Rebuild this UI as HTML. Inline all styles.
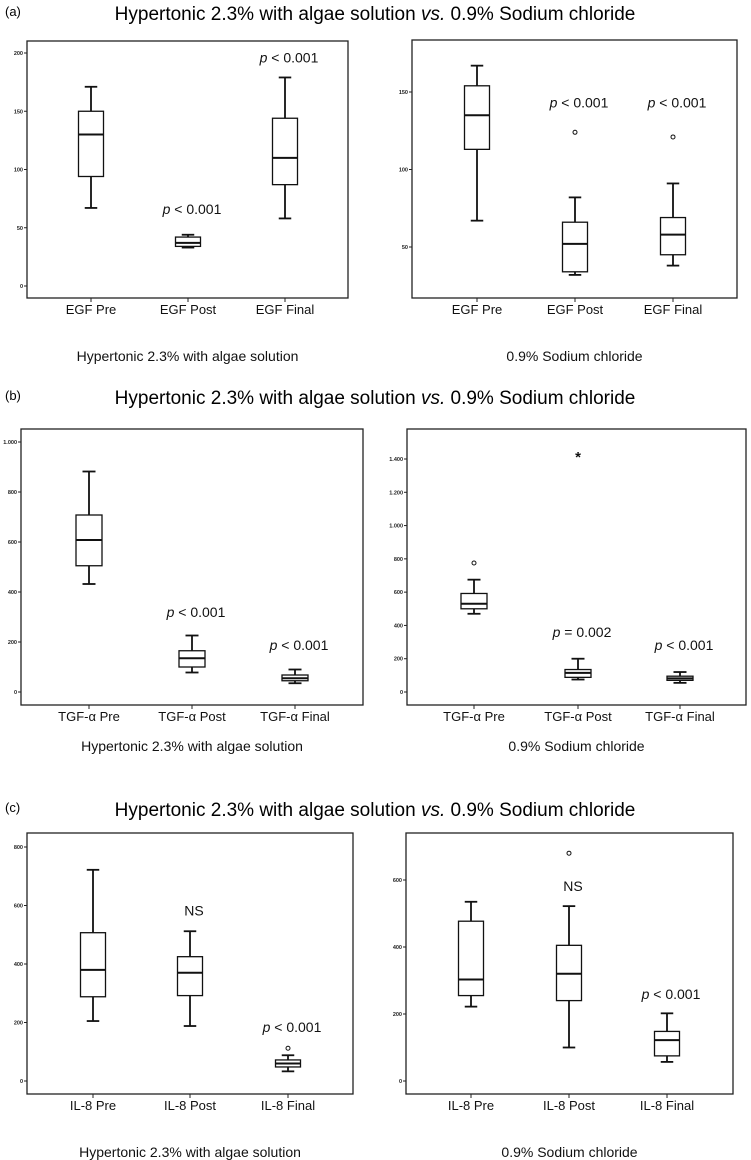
<!DOCTYPE html>
<html><head><meta charset="utf-8"><style>
body{margin:0;background:#fff;width:751px;height:1160px;overflow:hidden;font-family:"Liberation Sans",sans-serif}
svg{display:block}
</style></head><body>
<svg id="fig" width="751" height="1160" viewBox="0 0 751 1160" xmlns="http://www.w3.org/2000/svg" font-family="Liberation Sans, sans-serif"></svg>
<script>
// ---- data ----
const catsEGF = ["EGF Pre","EGF Post","EGF Final"];
const catsTGF = ["TGF-\u03b1 Pre","TGF-\u03b1 Post","TGF-\u03b1 Final"];
const catsIL8 = ["IL-8 Pre","IL-8 Post","IL-8 Final"];
// [low whisker, q1, median, q3, high whisker]
const egfAlgae = [[67,94,130,150,171],[33,34,37,42,44],[58,87,110,144,179]];
const egfNaCl = [[67,113,135,154,167],[32,34,52,66,82],[38,45,58,69,91]];
const egfNaClOutliers = [[],[124],[121]];
const tgfAlgae = [[432,505,608,708,882],[78,100,135,165,226],[35,45,55,68,90]];
const tgfNaCl = [[470,500,530,592,675],[75,88,115,135,200],[55,70,82,95,120]];
const tgfNaClOutliers = [[775],[],[]];
const tgfNaClExtremes = [[],[1425],[]];
const il8Algae = [[205,288,380,507,722],[188,292,370,425,512],[33,48,60,72,88]];
const il8AlgaeOutliers = [[],[],[112]];
const il8NaCl = [[222,255,303,477,535],[100,240,320,405,522],[57,75,122,148,202]];
const il8NaClOutliers = [[],[680],[]];
const ticksA1 = [0,50,100,150,200];
const ticksA2 = [50,100,150];
const ticksB1 = [0,200,400,600,800,1000];
const ticksB2 = [0,200,400,600,800,1000,1200,1400];
const ticksC1 = [0,200,400,600,800];
const ticksC2 = [0,200,400,600];
const annA1 = ["","p < 0.001","p < 0.001"], annA1V=[0,62,192];
const annA2 = ["","p < 0.001","p < 0.001"], annA2V=[0,140,140];
const annB1 = ["","p < 0.001","p < 0.001"], annB1V=[0,300,168];
const annB2 = ["","p = 0.002","p < 0.001"], annB2V=[0,330,253];
const annC1 = ["","NS","p < 0.001"], annC1V=[0,565,168];
const annC2 = ["","NS","p < 0.001"], annC2V=[0,567,245];

const NS="http://www.w3.org/2000/svg";
const svg=document.getElementById('fig');
function mk(tag,attrs,parent,text){const e=document.createElementNS(NS,tag);for(const k in attrs)e.setAttribute(k,attrs[k]);if(text!==undefined)e.textContent=text;(parent||svg).appendChild(e);return e;}

function header(letter,y){
  const l=mk('text',{x:5,y:y,'font-size':13,fill:'#000'},svg,'('+letter+')');
  
  
  const t=mk('text',{x:375,y:y+4,'font-size':19,'text-anchor':'middle',fill:'#000'},svg);
  
  
  mk('tspan',{},t,'Hypertonic 2.3% with algae solution ');
  mk('tspan',{'font-style':'italic'},t,'vs.');
  mk('tspan',{},t,' 0.9% Sodium chloride');
}

function panel(name,fr,y0,v0,y1,v1,cx,bw,cats,boxes,ticks,ann,annV,outs,extr,sub,subY){
  const g=mk('g',{});
  
  
  const y=v=>y0+(v-v0)*(y1-y0)/(v1-v0);
  const fm=mk('rect',{x:fr[0],y:fr[1],width:fr[2]-fr[0],height:fr[3]-fr[1],fill:'none',stroke:'#222','stroke-width':1.3},g);
  
  
  ticks.forEach(t=>{
    const yy=y(t);
    mk('line',{x1:fr[0]-3,x2:fr[0],y1:yy,y2:yy,stroke:'#222','stroke-width':1},g);
    const lb=mk('text',{x:fr[0]-4,y:yy+2,'font-size':5.5,'font-weight':'bold','text-anchor':'end',fill:'#222'},g,t>=1000?(t/1000).toFixed(3):String(t));
    
    
  });
  cats.forEach((c,i)=>{
    const x=cx[i],b=boxes[i];
    mk('line',{x1:x,x2:x,y1:fr[3],y2:fr[3]+4,stroke:'#222','stroke-width':1},g);
    const cl=mk('text',{x:x,y:fr[3]+16,'font-size':13,'text-anchor':'middle',fill:'#111'},g,c);
    
    
    const bx=mk('g',{'stroke':'#111','fill':'none'},g);
    
    
    mk('line',{x1:x,x2:x,y1:y(b[0]),y2:y(b[1]),'stroke-width':1.8},bx);
    mk('line',{x1:x,x2:x,y1:y(b[3]),y2:y(b[4]),'stroke-width':1.8},bx);
    mk('line',{x1:x-bw/4,x2:x+bw/4,y1:y(b[0]),y2:y(b[0]),'stroke-width':1.8},bx);
    mk('line',{x1:x-bw/4,x2:x+bw/4,y1:y(b[4]),y2:y(b[4]),'stroke-width':1.8},bx);
    mk('rect',{x:x-bw/2,y:y(b[3]),width:bw,height:y(b[1])-y(b[3]),fill:'#fff','stroke-width':1.3},bx);
    mk('line',{x1:x-bw/2,x2:x+bw/2,y1:y(b[2]),y2:y(b[2]),'stroke-width':2},bx);
    (outs?outs[i]:[]).forEach(o=>{
      const c2=mk('circle',{cx:x,cy:y(o),r:2,fill:'none',stroke:'#111','stroke-width':1},g);
      
      
    });
    (extr?extr[i]:[]).forEach(o=>{
      const s=mk('text',{x:x,y:y(o)+7,'font-size':15,'font-weight':'bold','text-anchor':'middle',fill:'#111'},g,'*');
      
      
    });
    if(ann[i]){
      const a=mk('text',{x:x+4,y:y(annV[i]),'font-size':14,'text-anchor':'middle',fill:'#111'},g);
      
      
      if(ann[i].startsWith('p')){mk('tspan',{'font-style':'italic'},a,'p');mk('tspan',{},a,ann[i].slice(1));}
      else a.textContent=ann[i];
    }
  });
  const st=mk('text',{x:(fr[0]+fr[2])/2,y:subY,'font-size':14,'text-anchor':'middle',fill:'#111'},g,sub);
  
  
}

header('a',16);
panel('egf-algae-chart',[27,41,348,298],286,0,53,200,[91,188,285],25,catsEGF,egfAlgae,ticksA1,annA1,annA1V,null,null,'Hypertonic 2.3% with algae solution',361);
panel('egf-nacl-chart',[412,40,737,298],247,50,92,150,[477,575,673],25,catsEGF,egfNaCl,ticksA2,annA2,annA2V,egfNaClOutliers,null,'0.9% Sodium chloride',361);
header('b',400);
panel('tgf-algae-chart',[21,429,363,705],692,0,442,1000,[89,192,295],26,catsTGF,tgfAlgae,ticksB1,annB1,annB1V,null,null,'Hypertonic 2.3% with algae solution',751);
panel('tgf-nacl-chart',[407,429,746,705],692,0,459,1400,[474,578,680],26,catsTGF,tgfNaCl,ticksB2,annB2,annB2V,tgfNaClOutliers,tgfNaClExtremes,'0.9% Sodium chloride',751);
header('c',812);
panel('il8-algae-chart',[27,833,353,1094],1081,0,847,800,[93,190,288],25,catsIL8,il8Algae,ticksC1,annC1,annC1V,il8AlgaeOutliers,null,'Hypertonic 2.3% with algae solution',1157);
panel('il8-nacl-chart',[406,833,733,1094],1081,0,880,600,[471,569,667],25,catsIL8,il8NaCl,ticksC2,annC2,annC2V,il8NaClOutliers,null,'0.9% Sodium chloride',1157);
</script>
</body></html>
